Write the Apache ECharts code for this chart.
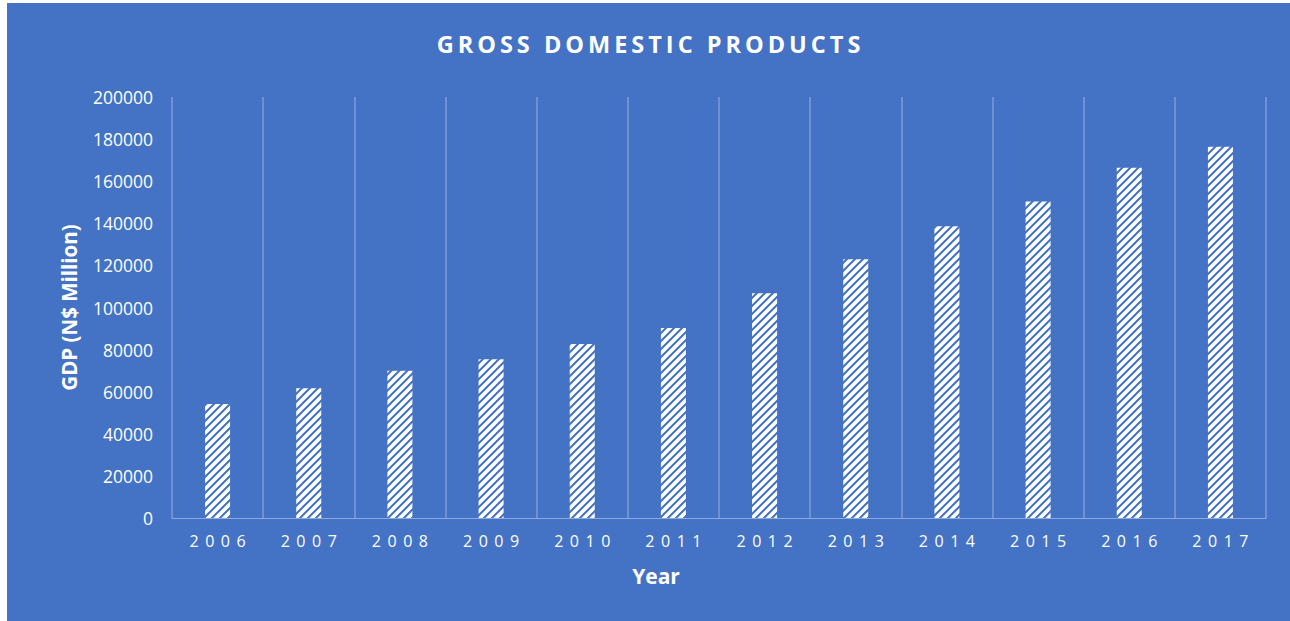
<!DOCTYPE html>
<html>
<head>
<meta charset="utf-8">
<script src="https://cdn.jsdelivr.net/npm/echarts@6/dist/echarts.min.js"></script>
<style>
  html, body { margin: 0; padding: 0; background: #ffffff; }
  #chart { position: absolute; left: 7px; top: 3px; width: 1283px; height: 618px; background: #4472C4; }
</style>
</head>
<body>
<div id="chart"></div>
<script>
// Gross domestic product by year, N$ million
const years = ['2006', '2007', '2008', '2009', '2010', '2011', '2012', '2013', '2014', '2015', '2016', '2017'];
const gdp = [54200, 61600, 69900, 75400, 82700, 90300, 106800, 122900, 138600, 150300, 166400, 176400];
const yTicks = { min: 0, max: 200000, interval: 20000 };

const BLUE = '#4472C4';

// Hatched fill: white tile with a blue upward diagonal stripe
function hatchTile() {
  const c = document.createElement('canvas');
  c.width = 8; c.height = 8;
  const g = c.getContext('2d');
  g.fillStyle = '#ffffff';
  g.fillRect(0, 0, 8, 8);
  g.strokeStyle = BLUE;
  g.lineWidth = 2;
  g.beginPath();
  g.moveTo(-2, 10); g.lineTo(10, -2);
  g.moveTo(-2, 2); g.lineTo(2, -2);
  g.moveTo(6, 10); g.lineTo(10, 6);
  g.stroke();
  return c;
}

const chart = echarts.init(document.getElementById('chart'), null, { renderer: 'svg' });

const font = 'Open Sans';
chart.setOption({
  animation: false,
  backgroundColor: BLUE,
  title: {
    text: 'GROSS DOMESTIC PRODUCTS',
    left: 'center',
    top: 24,
    textStyle: { color: '#ffffff', fontFamily: font, fontWeight: 'bold', fontSize: 23.5 }
  },
  grid: { left: 165, right: 24, top: 94, bottom: 103, containLabel: false },
  xAxis: {
    type: 'category',
    data: years,
    name: 'Year',
    nameLocation: 'middle',
    nameGap: 47,
    nameTextStyle: {
      color: '#ffffff', fontFamily: font, fontWeight: 'bold', fontSize: 21,
      padding: [0, 126, 0, 0]
    },
    axisLine: { lineStyle: { color: '#8FAADC', width: 1 } },
    axisTick: { show: false },
    axisLabel: { color: '#ffffff', fontFamily: font, fontSize: 16, margin: 15 },
    splitLine: { show: true, lineStyle: { color: 'rgba(255,255,255,0.3)', width: 1.5 } }
  },
  yAxis: {
    type: 'value',
    min: yTicks.min,
    max: yTicks.max,
    interval: yTicks.interval,
    name: 'GDP (N$ Million)',
    nameLocation: 'middle',
    nameGap: 93,
    nameTextStyle: { color: '#ffffff', fontFamily: font, fontWeight: 'bold', fontSize: 20.5 },
    axisLine: { show: false },
    axisTick: { show: false },
    splitLine: { show: false },
    axisLabel: {
      color: '#ffffff', fontFamily: font, fontSize: 17.5, margin: 19,
      formatter: function (v) { return String(v); }
    }
  },
  series: [{
    type: 'bar',
    data: gdp,
    barWidth: 25,
    itemStyle: { color: { image: hatchTile(), repeat: 'repeat' } }
  }]
});

// Widen the tracking of the title and the year labels
function track() {
  const texts = document.querySelectorAll('#chart svg text');
  texts.forEach(function (t) {
    const s = t.textContent;
    let sp = 0;
    if (s === 'GROSS DOMESTIC PRODUCTS') sp = 4;
    else if (years.indexOf(s) >= 0) sp = 6.5;
    if (!sp || t.getAttribute('data-tracked')) return;
    const b0 = t.getBBox();
    const c0 = b0.x + b0.width / 2;
    t.style.letterSpacing = sp + 'px';
    const b1 = t.getBBox();
    const dx = c0 - (b1.x + (b1.width - sp) / 2);
    t.setAttribute('dx', dx.toFixed(2));
    t.setAttribute('data-tracked', '1');
  });
}
chart.on('finished', track);
setTimeout(track, 50);
</script>
</body>
</html>
